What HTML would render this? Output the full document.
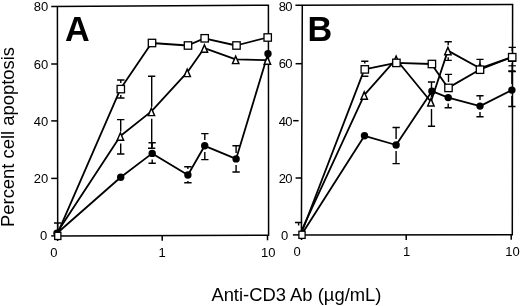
<!DOCTYPE html>
<html><head><meta charset="utf-8"><title>Figure</title>
<style>
html,body{margin:0;padding:0;background:#fff;}
body{width:520px;height:306px;overflow:hidden;}
svg{display:block;filter:grayscale(1);}
text{font-family:"Liberation Sans",sans-serif;fill:#000;}
</style></head><body>
<svg width="520" height="306" viewBox="0 0 520 306">
<rect width="520" height="306" fill="#fff"/>
<path d="M51.2 6.4L268.4 5.2L268.6 235.3L57.7 236.0L57.4 6.4" fill="none" stroke="#000" stroke-width="1.50"/>
<path d="M295.4 5.2L512.6 4.6L512.3 234.8L301.4 235.0L302.3 5.2" fill="none" stroke="#000" stroke-width="1.50"/>
<path d="M51.2 64.0H57.5" stroke="#000" stroke-width="1.50"/>
<path d="M51.2 120.9H57.5" stroke="#000" stroke-width="1.50"/>
<path d="M51.2 178.4H57.5" stroke="#000" stroke-width="1.50"/>
<path d="M51.2 235.9H57.5" stroke="#000" stroke-width="1.50"/>
<path d="M295.6 63.7H301.9" stroke="#000" stroke-width="1.50"/>
<path d="M293.1 120.7H298.6" stroke="#000" stroke-width="1.50"/>
<path d="M295.6 178.0H301.5" stroke="#000" stroke-width="1.50"/>
<path d="M292.9 234.9H301.4" stroke="#000" stroke-width="1.50"/>
<path d="M57.6 236.0V241.0" stroke="#000" stroke-width="1.50"/>
<path d="M162.2 235.8V240.8" stroke="#000" stroke-width="1.50"/>
<path d="M267.5 235.3V240.3" stroke="#000" stroke-width="1.50"/>
<path d="M301.5 235.0V240.0" stroke="#000" stroke-width="1.50"/>
<path d="M406.2 234.9V239.9" stroke="#000" stroke-width="1.50"/>
<path d="M511.2 234.8V239.8" stroke="#000" stroke-width="1.50"/>
<path d="M54.0 223.0H61.2M57.6 223.0V229.9" stroke="#000" stroke-width="1.4" fill="none"/>
<path d="M117.1 80.0H124.5M120.8 80.0V83.1M117.1 98.0H124.5M120.8 95.1V98.0" stroke="#000" stroke-width="1.4" fill="none"/>
<path d="M117.0 119.6H124.4M120.7 119.6V131.6M117.0 154.0H124.4M120.7 143.6V154.0" stroke="#000" stroke-width="1.4" fill="none"/>
<path d="M148.0 76.3H155.3M151.7 76.3V106.7M148.0 148.2H155.3M151.7 118.7V148.2" stroke="#000" stroke-width="1.4" fill="none"/>
<path d="M148.5 142.7H155.8M152.2 142.7V147.4M148.5 163.2H155.8M152.2 159.4V163.2" stroke="#000" stroke-width="1.4" fill="none"/>
<path d="M184.2 166.7H191.6M187.9 166.7V169.0M184.2 182.7H191.6M187.9 181.0V182.7" stroke="#000" stroke-width="1.4" fill="none"/>
<path d="M201.2 133.6H208.5M204.8 133.6V140.0M201.2 159.6H208.5M204.8 152.0V159.6" stroke="#000" stroke-width="1.4" fill="none"/>
<path d="M232.4 145.8H239.8M236.1 145.8V152.9M232.4 172.0H239.8M236.1 164.9V172.0" stroke="#000" stroke-width="1.4" fill="none"/>
<polyline fill="none" stroke="#000" stroke-width="1.80" stroke-linejoin="round" points="57.0,233.3 120.7,177.3 152.2,153.4 187.9,175.0 204.7,145.8 236.1,158.9 268.0,53.7"/>
<polyline fill="none" stroke="#000" stroke-width="1.80" stroke-linejoin="round" points="56.3,233.8 120.4,136.0 151.4,111.4 187.2,72.4 204.4,48.1 235.7,59.4 267.4,60.1"/>
<polyline fill="none" stroke="#000" stroke-width="1.80" stroke-linejoin="round" points="56.5,235.9 120.4,89.1 151.6,43.0 187.6,45.5 204.3,38.3 236.1,45.5 267.3,37.5"/>
<circle cx="57.0" cy="233.3" r="3.7" fill="#000"/>
<circle cx="120.7" cy="177.3" r="3.7" fill="#000"/>
<circle cx="152.2" cy="153.4" r="3.7" fill="#000"/>
<circle cx="187.9" cy="175.0" r="3.7" fill="#000"/>
<circle cx="204.7" cy="145.8" r="3.7" fill="#000"/>
<circle cx="236.1" cy="158.9" r="3.7" fill="#000"/>
<circle cx="268.0" cy="53.7" r="3.7" fill="#000"/>
<path d="M120.4 132.8L123.6 140.2L117.2 140.2Z" fill="#fff" stroke="#000" stroke-width="1.45" stroke-linejoin="miter"/>
<path d="M151.4 108.2L154.6 115.6L148.2 115.6Z" fill="#fff" stroke="#000" stroke-width="1.45" stroke-linejoin="miter"/>
<path d="M187.2 69.2L190.4 76.6L184.0 76.6Z" fill="#fff" stroke="#000" stroke-width="1.45" stroke-linejoin="miter"/>
<path d="M204.4 44.9L207.6 52.3L201.2 52.3Z" fill="#fff" stroke="#000" stroke-width="1.45" stroke-linejoin="miter"/>
<path d="M235.7 56.2L238.9 63.6L232.5 63.6Z" fill="#fff" stroke="#000" stroke-width="1.45" stroke-linejoin="miter"/>
<path d="M267.4 56.9L270.6 64.3L264.2 64.3Z" fill="#fff" stroke="#000" stroke-width="1.45" stroke-linejoin="miter"/>
<rect x="54.7" y="232.3" width="6.2" height="7.2" fill="#fff" stroke="#000" stroke-width="1.3"/>
<rect x="117.1" y="85.4" width="7.4" height="7.4" fill="#fff" stroke="#000" stroke-width="1.3"/>
<rect x="148.3" y="39.3" width="7.4" height="7.4" fill="#fff" stroke="#000" stroke-width="1.3"/>
<rect x="184.3" y="41.8" width="7.4" height="7.4" fill="#fff" stroke="#000" stroke-width="1.3"/>
<rect x="201.0" y="34.6" width="7.4" height="7.4" fill="#fff" stroke="#000" stroke-width="1.3"/>
<rect x="232.8" y="41.8" width="7.4" height="7.4" fill="#fff" stroke="#000" stroke-width="1.3"/>
<rect x="264.0" y="33.8" width="7.4" height="7.4" fill="#fff" stroke="#000" stroke-width="1.3"/>
<path d="M295.0 222.5H302.2M298.6 222.5V225.5" stroke="#000" stroke-width="1.4" fill="none"/>
<path d="M361.2 61.2H368.4M364.8 61.2V63.4M361.2 76.3H368.4M364.8 75.4V76.3" stroke="#000" stroke-width="1.4" fill="none"/>
<path d="M392.5 127.5H399.8M396.1 127.5V139.0M392.5 163.6H399.8M396.1 151.0V163.6" stroke="#000" stroke-width="1.4" fill="none"/>
<path d="M427.9 82.0H435.1M431.5 82.0V96.9M427.9 126.3H435.1M431.5 108.9V126.3" stroke="#000" stroke-width="1.4" fill="none"/>
<path d="M444.6 41.7H451.8M448.2 41.7V45.2M444.6 60.4H451.8M448.2 57.2V60.4" stroke="#000" stroke-width="1.4" fill="none"/>
<path d="M444.9 74.4H452.1M448.5 74.4V81.9" stroke="#000" stroke-width="1.4" fill="none"/>
<path d="M444.6 107.8H451.8M448.2 103.6V107.8" stroke="#000" stroke-width="1.4" fill="none"/>
<path d="M476.4 59.4H483.6M480.0 59.4V63.7" stroke="#000" stroke-width="1.4" fill="none"/>
<path d="M476.4 95.7H483.6M480.0 95.7V100.1M476.4 116.7H483.6M480.0 112.1V116.7" stroke="#000" stroke-width="1.4" fill="none"/>
<path d="M508.6 47.4H515.9M512.2 47.4V51.2M508.6 71.6H515.9M512.2 63.2V71.6" stroke="#000" stroke-width="1.4" fill="none"/>
<path d="M508.2 71.0H515.5M511.9 71.0V84.1M508.2 106.5H515.5M511.9 96.1V106.5" stroke="#000" stroke-width="1.4" fill="none"/>
<path d="M508.5 65.8H515.9" stroke="#000" stroke-width="1.2"/>
<polyline fill="none" stroke="#000" stroke-width="1.80" stroke-linejoin="round" points="302.1,233.8 364.5,135.8 396.1,145.0 431.9,91.2 448.2,97.6 480.0,106.1 511.9,90.1"/>
<polyline fill="none" stroke="#000" stroke-width="1.80" stroke-linejoin="round" points="300.6,232.7 364.2,95.1 396.1,59.2 430.9,101.8 447.9,50.6 479.9,68.3 511.9,57.0"/>
<polyline fill="none" stroke="#000" stroke-width="1.80" stroke-linejoin="round" points="300.8,234.8 364.4,69.4 396.0,62.9 431.5,64.0 448.1,87.9 479.6,69.7 511.8,57.2"/>
<circle cx="302.1" cy="233.8" r="3.0" fill="#000"/>
<circle cx="364.5" cy="135.8" r="3.7" fill="#000"/>
<circle cx="396.1" cy="145.0" r="3.7" fill="#000"/>
<circle cx="431.9" cy="91.2" r="3.7" fill="#000"/>
<circle cx="448.2" cy="97.6" r="3.7" fill="#000"/>
<circle cx="480.0" cy="106.1" r="3.7" fill="#000"/>
<circle cx="511.9" cy="90.1" r="3.7" fill="#000"/>
<path d="M364.2 91.9L367.4 99.3L361.0 99.3Z" fill="#fff" stroke="#000" stroke-width="1.45" stroke-linejoin="miter"/>
<path d="M396.1 56.0L399.3 63.4L392.9 63.4Z" fill="#fff" stroke="#000" stroke-width="1.45" stroke-linejoin="miter"/>
<path d="M430.9 98.6L434.1 106.0L427.7 106.0Z" fill="#fff" stroke="#000" stroke-width="1.45" stroke-linejoin="miter"/>
<path d="M447.9 47.4L451.1 54.8L444.7 54.8Z" fill="#fff" stroke="#000" stroke-width="1.45" stroke-linejoin="miter"/>
<path d="M479.9 63.5L483.1 70.9L476.7 70.9Z" fill="#fff" stroke="#000" stroke-width="1.45" stroke-linejoin="miter"/>
<path d="M512.2 53.8L515.4 61.2L509.0 61.2Z" fill="#fff" stroke="#000" stroke-width="1.45" stroke-linejoin="miter"/>
<rect x="298.9" y="231.2" width="6.2" height="7.2" fill="#fff" stroke="#000" stroke-width="1.3"/>
<rect x="361.1" y="65.7" width="7.4" height="7.4" fill="#fff" stroke="#000" stroke-width="1.3"/>
<rect x="392.7" y="59.2" width="7.4" height="7.4" fill="#fff" stroke="#000" stroke-width="1.3"/>
<rect x="428.2" y="60.3" width="7.4" height="7.4" fill="#fff" stroke="#000" stroke-width="1.3"/>
<rect x="444.8" y="84.2" width="7.4" height="7.4" fill="#fff" stroke="#000" stroke-width="1.3"/>
<rect x="476.3" y="66.0" width="7.4" height="7.4" fill="#fff" stroke="#000" stroke-width="1.3"/>
<rect x="508.5" y="53.5" width="7.4" height="7.4" fill="#fff" stroke="#000" stroke-width="1.3"/>
<text x="48.2" y="10.9" font-size="13.0" text-anchor="end" font-weight="normal" >80</text>
<text x="48.2" y="68.7" font-size="13.0" text-anchor="end" font-weight="normal" >60</text>
<text x="48.2" y="125.6" font-size="13.0" text-anchor="end" font-weight="normal" >40</text>
<text x="48.2" y="183.1" font-size="13.0" text-anchor="end" font-weight="normal" >20</text>
<text x="47.2" y="240.2" font-size="13.0" text-anchor="end" font-weight="normal" >0</text>
<text x="291.6" y="10.5" font-size="13.0" text-anchor="end" font-weight="normal" letter-spacing="-0.8">80</text>
<text x="291.6" y="68.3" font-size="13.0" text-anchor="end" font-weight="normal" letter-spacing="-0.8">60</text>
<text x="291.6" y="125.7" font-size="13.0" text-anchor="end" font-weight="normal" letter-spacing="-0.8">40</text>
<text x="291.6" y="182.8" font-size="13.0" text-anchor="end" font-weight="normal" letter-spacing="-0.8">20</text>
<text x="288.3" y="240.0" font-size="13.0" text-anchor="end" font-weight="normal" >0</text>
<text x="53.9" y="257.3" font-size="13.0" text-anchor="middle" font-weight="normal" >0</text>
<text x="162.2" y="257.3" font-size="13.0" text-anchor="middle" font-weight="normal" >1</text>
<text x="268.2" y="257.3" font-size="13.0" text-anchor="middle" font-weight="normal" >10</text>
<text x="297.1" y="256.0" font-size="13.0" text-anchor="middle" font-weight="normal" >0</text>
<text x="406.5" y="256.0" font-size="13.0" text-anchor="middle" font-weight="normal" >1</text>
<text x="512.6" y="256.0" font-size="13.0" text-anchor="middle" font-weight="normal" >10</text>
<text x="65.0" y="41.4" font-size="34.2" text-anchor="start" font-weight="bold" >A</text>
<text x="307.5" y="41.0" font-size="34.2" text-anchor="start" font-weight="bold" >B</text>
<text x="296.4" y="301.4" font-size="18.4" text-anchor="middle" font-weight="normal" >Anti-CD3 Ab (µg/mL)</text>
<text transform="translate(14.4,137.0) rotate(-90)" font-size="18.4" text-anchor="middle">Percent cell apoptosis</text>
</svg>
</body></html>
